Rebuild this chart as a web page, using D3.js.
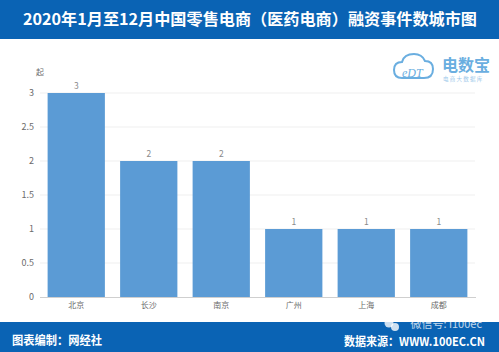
<!DOCTYPE html>
<html><head><meta charset="utf-8">
<script src="https://cdn.jsdelivr.net/npm/d3@7/dist/d3.min.js"></script>
<style>body{margin:0;background:#fff}svg{display:block}</style>
</head><body><svg id="c" width="499" height="352"></svg>
<script>
const categories = ["北京","长沙","南京","广州","上海","成都"];
const values = [3,2,2,1,1,1];
const yTicks = [0,0.5,1,1.5,2,2.5,3];
const yTickLabels = ["0","0.5","1","1.5","2","2.5","3"];
const titleText = "2020年1月至12月中国零售电商（医药电商）融资事件数城市图";
const unitText = "起";
const footerLeft = "图表编制：网经社";
const footerRight = "数据来源：WWW.100EC.CN";

const svg = d3.select("#c");
const font = "'Noto Sans CJK SC','Microsoft YaHei',sans-serif";
const blue = "#0a63b4";

// header
svg.append("rect").attr("x",0).attr("y",0).attr("width",499).attr("height",39).attr("fill",blue);
svg.append("text").attr("x",250).attr("y",25).attr("text-anchor","middle")
  .attr("fill","#fff").attr("font-family",font).attr("font-weight","bold").attr("font-size",16)
  .attr("textLength",454).attr("lengthAdjust","spacingAndGlyphs")
  .text(titleText);

// footer
svg.append("rect").attr("x",0).attr("y",322).attr("width",499).attr("height",30).attr("fill",blue);
svg.append("text").attr("x",12).attr("y",345).attr("fill","#fff").attr("font-family",font)
  .attr("font-weight","bold").attr("font-size",12)
  .attr("textLength",90).attr("lengthAdjust","spacingAndGlyphs").text(footerLeft);
svg.append("text").attr("x",344).attr("y",346).attr("fill","#fff").attr("font-family",font)
  .attr("font-weight","bold").attr("font-size",12)
  .attr("textLength",141).attr("lengthAdjust","spacingAndGlyphs").text(footerRight);
// watermark
svg.append("text").attr("x",482).attr("y",328).attr("text-anchor","end").attr("fill","#ffffff").attr("opacity",0.75)
  .attr("font-family",font).attr("font-size",11).text("微信号: i100ec");
svg.append("circle").attr("cx",389).attr("cy",323).attr("r",4.5).attr("fill","#fff").attr("opacity",0.8);
svg.append("circle").attr("cx",395).attr("cy",327).attr("r",4).attr("fill","#fff").attr("opacity",0.8);

// logo
const logo = svg.append("g");
logo.append("path").attr("d","M402,78 q-8,0 -8,-8 q0,-8 8,-8 q2,-8 12,-8 q8,0 11,7 q8,0 8,8 q0,9 -9,9 z")
  .attr("fill","none").attr("stroke","#6aaee0").attr("stroke-width",2);
logo.append("text").attr("x",402).attr("y",77).attr("fill","#6aaee0").attr("font-family","serif")
  .attr("font-size",12).attr("font-style","italic").text("eDT");
logo.append("text").attr("x",442).attr("y",71).attr("fill","#6aaee0").attr("font-family",font)
  .attr("font-weight","bold").attr("font-size",16).text("电数宝");
logo.append("text").attr("x",443).attr("y",81).attr("fill","#9cc8ea").attr("font-family",font)
  .attr("font-size",5.5).text("电 商 大 数 据 库");

// scales
const x = d3.scaleBand().domain(categories).range([40,475]).paddingInner(0.21).paddingOuter(0.105);
const y = d3.scaleLinear().domain([0,3]).range([297,93]);

// gridlines
svg.append("g").selectAll("line").data(yTicks.filter(d=>d>0)).join("line")
  .attr("x1",40).attr("x2",475).attr("y1",d=>y(d)).attr("y2",d=>y(d))
  .attr("stroke","#efefef").attr("stroke-width",1);

// y axis
const yAxis = d3.axisLeft(y).tickValues(yTicks).tickFormat((d,i)=>yTickLabels[i]).tickSize(0).tickPadding(6);
const yg = svg.append("g").attr("transform","translate(40,0)").call(yAxis);
yg.select(".domain").remove();
yg.selectAll("text").attr("fill","#6b6b6b").attr("font-family",font).attr("font-size",9);

svg.append("text").attr("x",40).attr("y",75).attr("text-anchor","middle").attr("fill","#6b6b6b")
  .attr("font-family",font).attr("font-size",8).text(unitText);

// bars
svg.append("g").selectAll("rect").data(values).join("rect")
  .attr("x",(d,i)=>x(categories[i])).attr("y",d=>y(d))
  .attr("width",x.bandwidth()).attr("height",d=>y(0)-y(d)).attr("fill","#5b9bd5");

// value labels
svg.append("g").selectAll("text").data(values).join("text")
  .attr("x",(d,i)=>x(categories[i])+x.bandwidth()/2).attr("y",d=>y(d)-4)
  .attr("text-anchor","middle").attr("fill","#8a8a8a").attr("font-family",font).attr("font-size",8.5)
  .text(d=>d);

// x axis
const xAxis = d3.axisBottom(x).tickSize(0).tickPadding(5);
const xg = svg.append("g").attr("transform","translate(0,297)").call(xAxis);
xg.select(".domain").attr("stroke","#cfcfcf").attr("d","M40,0.5H476");
xg.selectAll("text").attr("fill","#6b6b6b").attr("font-family",font).attr("font-size",8);
</script></body></html>
